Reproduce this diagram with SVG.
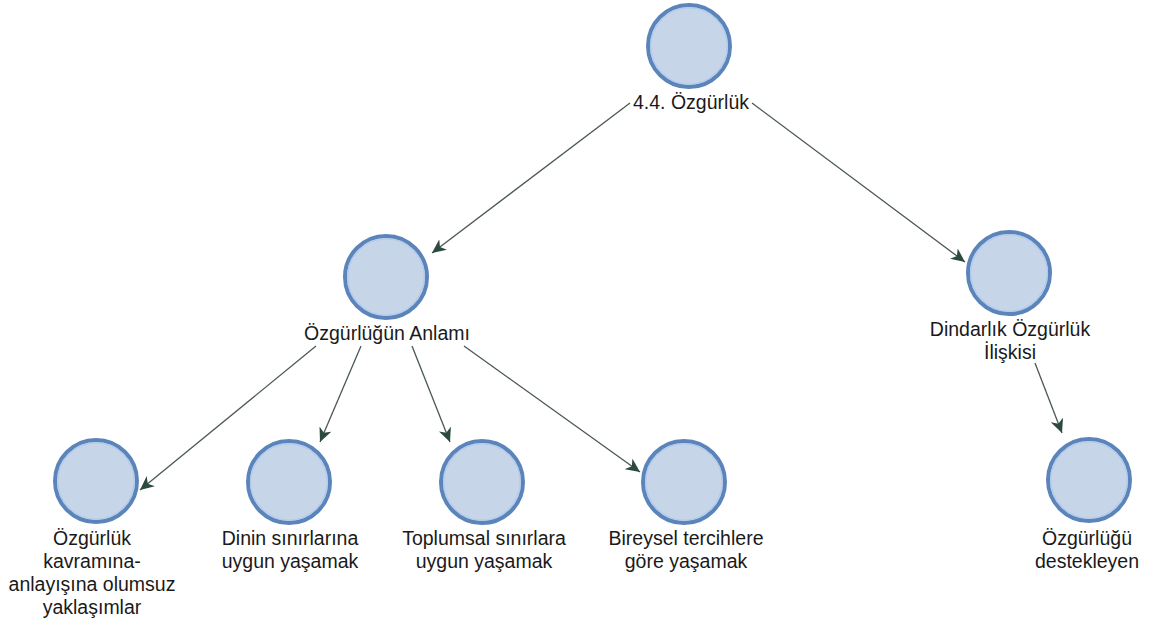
<svg xmlns="http://www.w3.org/2000/svg" width="1157" height="623" viewBox="0 0 1157 623">
<style>
.node circle.o{fill:#c7d5e8;stroke:#5b85ba;stroke-width:4}
.node circle.i{fill:none;stroke:#b3cbec;stroke-width:1.5}
.node text{font-family:"Liberation Sans",Arial,sans-serif;font-size:19.5px;fill:#1a1a1a;text-anchor:middle}
.edges line{stroke:#4a5854;stroke-width:1.3;fill:none;marker-end:url(#arr)}
</style>
<defs>
<marker id="arr" markerUnits="userSpaceOnUse" markerWidth="15" markerHeight="13" viewBox="0 0 15 13" refX="14" refY="6.5" orient="auto">
<path d="M0,0 L14,6.5 L0,13 L4,6.5 Z" fill="#2c4a3f"/>
</marker>
</defs>
<rect width="1157" height="623" fill="#ffffff"/>
<g class="edges">
<line x1="630" y1="103" x2="432" y2="253"/>
<line x1="752" y1="103" x2="965" y2="262"/>
<line x1="316" y1="346" x2="140" y2="490"/>
<line x1="361" y1="346" x2="320" y2="442"/>
<line x1="412" y1="346" x2="450" y2="442"/>
<line x1="464" y1="346" x2="640" y2="472"/>
<line x1="1035" y1="363" x2="1062" y2="433"/>
</g>
<g id="n-root" class="node">
<circle class="o" cx="689" cy="46" r="41"/><circle class="i" cx="689" cy="46" r="38.3"/>
<text x="691" y="109">4.4. Özgürlük</text>
</g>
<g id="n-anlam" class="node">
<circle class="o" cx="386" cy="277" r="41"/><circle class="i" cx="386" cy="277" r="38.3"/>
<text x="387" y="340">Özgürlüğün Anlamı</text>
</g>
<g id="n-dindarlik" class="node">
<circle class="o" cx="1009" cy="273" r="41"/><circle class="i" cx="1009" cy="273" r="38.3"/>
<text x="1010" y="336">Dindarlık Özgürlük</text>
<text x="1010" y="359">İlişkisi</text>
</g>
<g id="n-olumsuz" class="node">
<circle class="o" cx="96" cy="481" r="41"/><circle class="i" cx="96" cy="481" r="38.3"/>
<text x="92" y="545">Özgürlük</text>
<text x="92" y="568">kavramına-</text>
<text x="92" y="591">anlayışına olumsuz</text>
<text x="92" y="614">yaklaşımlar</text>
</g>
<g id="n-din" class="node">
<circle class="o" cx="289" cy="482" r="41"/><circle class="i" cx="289" cy="482" r="38.3"/>
<text x="290" y="545">Dinin sınırlarına</text>
<text x="290" y="568">uygun yaşamak</text>
</g>
<g id="n-toplum" class="node">
<circle class="o" cx="482" cy="482" r="41"/><circle class="i" cx="482" cy="482" r="38.3"/>
<text x="484" y="545">Toplumsal sınırlara</text>
<text x="484" y="568">uygun yaşamak</text>
</g>
<g id="n-bireysel" class="node">
<circle class="o" cx="684" cy="482" r="41"/><circle class="i" cx="684" cy="482" r="38.3"/>
<text x="686" y="545">Bireysel tercihlere</text>
<text x="686" y="568">göre yaşamak</text>
</g>
<g id="n-destek" class="node">
<circle class="o" cx="1089" cy="480" r="41"/><circle class="i" cx="1089" cy="480" r="38.3"/>
<text x="1087" y="545">Özgürlüğü</text>
<text x="1087" y="568">destekleyen</text>
</g>
</svg>
